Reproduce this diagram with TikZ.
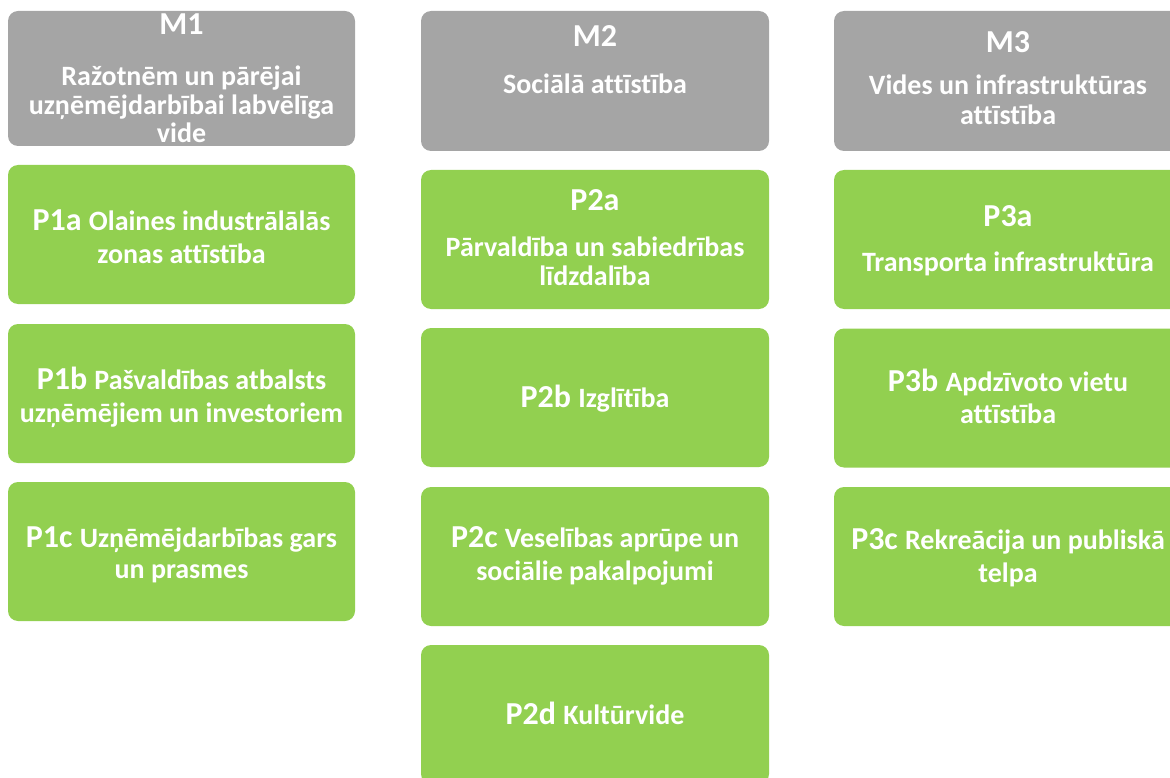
\documentclass[tikz,border=0pt]{standalone}
\usepackage{fontspec}
\setmainfont{Carlito}[Ligatures=NoCommon]
\definecolor{mgray}{HTML}{A5A5A5}
\definecolor{pgreen}{HTML}{92D050}
\newcommand\mhd{\fontsize{32}{38}\selectfont}
\newcommand\mfnt{\fontsize{28}{32}\selectfont}
\newcommand\plab{\fontsize{32}{38}\selectfont}
\newcommand\pdsc{\fontsize{28}{32}\selectfont}
\tikzset{
  box/.style={rounded corners=10pt, minimum width=347pt, minimum height=139pt, inner sep=0pt, draw=none},
  mbox/.style={box, fill=mgray},
  pbox/.style={box, fill=pgreen},
  txt/.style={text=white, font=\bfseries, anchor=base, inner sep=0pt},
}
\begin{document}
\begin{tikzpicture}[x=1pt, y=-1pt]
\useasboundingbox (0,0) rectangle (1170,778);
% boxes
\node[mbox, minimum height=135pt] (m1) at (181.5,78.5) {};
\node[mbox, minimum height=140pt, minimum width=348pt] (m2) at (595,81) {};
\node[mbox, minimum height=140pt, minimum width=348pt] (m3) at (1008,81) {};
\node[pbox] (p1a) at (181.5,234.5) {};
\node[pbox] (p1b) at (181.5,393.5) {};
\node[pbox] (p1c) at (181.5,551.5) {};
\node[pbox, minimum width=348pt] (p2a) at (595,239.5) {};
\node[pbox, minimum width=348pt] (p2b) at (595,397.5) {};
\node[pbox, minimum width=348pt] (p2c) at (595,556.5) {};
\node[pbox, minimum width=348pt] (p2d) at (595,714.5) {};
\node[pbox, minimum width=348pt] (p3a) at (1008,239.5) {};
\node[pbox, minimum width=348pt] (p3b) at (1008,398) {};
\node[pbox, minimum width=348pt] (p3c) at (1008,556.5) {};
% M1
\node[txt] (m1h) at (181.5,35) {\mhd M1};
\node[txt] (m1l1) at (181.5,86) {\mfnt Ražotnēm un pārējai};
\node[txt] (m1l2) at (181.5,115) {\mfnt uzņēmējdarbībai labvēlīga};
\node[txt] (m1l3) at (181.5,143) {\mfnt vide};
% M2
\node[txt] (m2h) at (595,47) {\mhd M2};
\node[txt] (m2l1) at (595,94) {\mfnt Sociālā attīstība};
% M3
\node[txt] (m3h) at (1008,53) {\mhd M3};
\node[txt] (m3l1) at (1008,95) {\mfnt Vides un infrastruktūras};
\node[txt] (m3l2) at (1008,125) {\mfnt attīstība};
% P1
\node[txt] (t1a1) at (181.5,231) {\plab P1a \pdsc Olaines industrālālās};
\node[txt] (t1a2) at (181.5,263) {\pdsc zonas attīstība};
\node[txt] (t1b1) at (181.5,389) {\plab P1b \pdsc Pašvaldības atbalsts};
\node[txt] (t1b2) at (181.5,422) {\pdsc uzņēmējiem un investoriem};
\node[txt] (t1c1) at (181.5,547) {\plab P1c \pdsc Uzņēmējdarbības gars};
\node[txt] (t1c2) at (181.5,578) {\pdsc un prasmes};
% P2
\node[txt] (t2a0) at (595,211) {\plab P2a};
\node[txt] (t2a1) at (595,257) {\pdsc Pārvaldība un sabiedrības};
\node[txt] (t2a2) at (595,285) {\pdsc līdzdalība};
\node[txt] (t2b1) at (595,407) {\plab P2b \pdsc Izglītība};
\node[txt] (t2c1) at (595,547) {\plab P2c \pdsc Veselības aprūpe un};
\node[txt] (t2c2) at (595,580) {\pdsc sociālie pakalpojumi};
\node[txt] (t2d1) at (595,724) {\plab P2d \pdsc Kultūrvide};
% P3
\node[txt] (t3a0) at (1008,227) {\plab P3a};
\node[txt] (t3a1) at (1008,271) {\pdsc Transporta infrastruktūra};
\node[txt] (t3b1) at (1008,391) {\plab P3b \pdsc Apdzīvoto vietu};
\node[txt] (t3b2) at (1008,423) {\pdsc attīstība};
\node[txt] (t3c1) at (1008,549) {\plab P3c \pdsc Rekreācija un publiskā};
\node[txt] (t3c2) at (1008,582) {\pdsc telpa};
\end{tikzpicture}
\end{document}
